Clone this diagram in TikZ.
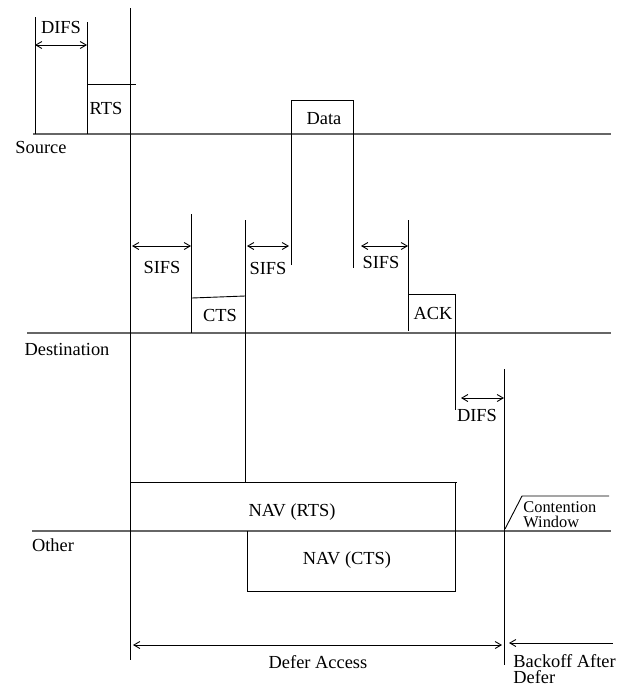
\documentclass[tikz,border=0pt]{standalone}
\usepackage{fontspec}
\setmainfont{Liberation Serif}
\usetikzlibrary{calc, arrows.meta}

\begin{document}
\begin{tikzpicture}[x=0.5pt,y=-0.5pt]
          \tikzstyle{axis}=[draw,line width = .75pt,black!60]
          \tikzstyle{edge}=[draw,line width = .45pt]
          \tikzstyle{interval}=[draw,line width = .45pt,{Straight Barb[length=3pt,width=3.5pt]}-{Straight Barb[length=3pt,width=3.5pt]}]
          \tikzstyle{lbl}=[inner sep=0pt,font=\fontsize{9.2}{11}\selectfont]
          \tikzstyle{slbl}=[inner sep=0pt,font=\fontsize{8.2}{9.6}\selectfont]
          \useasboundingbox (0,0) rectangle (630,685);
          % time lines of the three stations
          \foreach \st/\y/\x in {src/134/33,dst/333/27,oth/531/32}
            \draw[axis] (\x,\y) coordinate (\st L) -- (611,\y) coordinate (\st R);
          \node[lbl] (source) at (41,147) {Source};
          \node[lbl] (dest) at (67,349) {Destination};
          \node[lbl] (other) at (53,545) {Other};
          % source: DIFS then RTS
          \coordinate (d0) at (35,17);
          \coordinate (d1) at (87,22);
          \draw[edge] (d0) -- (d0 |- srcL);
          \draw[edge] (d1) -- (d1 |- srcL);
          \draw[interval] (35,45) -- (87,45);
          \node[lbl] (difs1) at (61,27) {DIFS};
          \draw[edge] (88,84) -- (136,84);
          \node[lbl] (rts) at (106,108) {RTS};
          \coordinate (t0) at (130,8);
          \coordinate (t0b) at (130,660);
          \draw[edge] (t0) -- (t0b);
          % destination: CTS
          \draw[edge] (191,214) -- (191,333);
          \draw[edge] (192,298) -- (245,296);
          \draw[edge] (245,220) -- (245,482);
          \node[lbl] (cts) at (220,315) {CTS};
          % source: Data
          \draw[edge] (291,265) -- (291,100) -- (353,100) -- (353,268);
          \node[lbl] (data) at (324,119) {Data};
          % destination: ACK
          \draw[edge] (408,220) -- (408,331);
          \draw[edge] (408,294) -- (455,294) -- (455,410);
          \node[lbl] (ack) at (433,313) {ACK};
          % short interframe spaces
          \foreach \a/\b/\lx/\ly in {132/191/162/267,247/289/268/268,361/408/381/262}{
            \draw[interval] (\a,246) -- (\b,246);
            \node[lbl] at (\lx,\ly) {SIFS};
            }
          % DIFS after ACK
          \draw[interval] (461,398) -- (504,398);
          \node[lbl] (difs2) at (477,415) {DIFS};
          \coordinate (t1) at (504,369);
          \coordinate (t1b) at (504,665);
          \draw[edge] (t1) -- (t1b);
          % NAV of the other stations
          \draw[edge] (130,482) -- (457,482);
          \draw[edge] (455,482) -- (455,591) -- (247,591) -- (247,531);
          \node[lbl] (navrts) at (292,512) {NAV (RTS)};
          \node[lbl] (navcts) at (347,560) {NAV (CTS)};
          % contention window
          \draw[edge] (505,529) -- (522,496) -- (609,496);
          \node[slbl,anchor=west] (cont) at (523,507) {Contention};
          \node[slbl,anchor=west] (win) at (523,522) {Window};
          % defer and backoff
          \draw[interval] (133,645) -- (502,645);
          \node[lbl] (defer) at (318,662) {Defer Access};
          \draw[edge,{Straight Barb[length=3pt,width=3.5pt]}-] (509,643) -- (613,643);
          \node[lbl,anchor=base west] (backoff) at (513,667) {Backoff After};
          \node[lbl,anchor=base west] (backoff2) at (513,683) {Defer};
        \end{tikzpicture}
\end{document}
